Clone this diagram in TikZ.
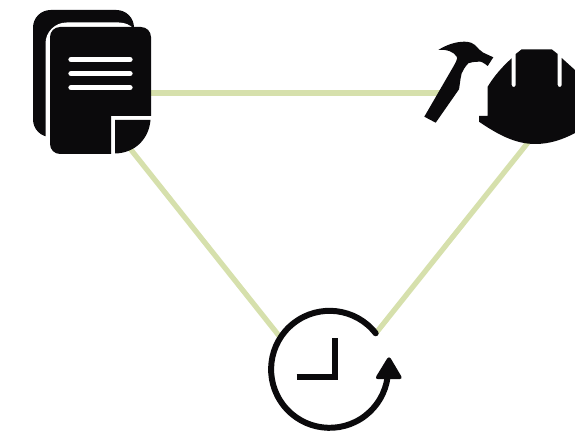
\documentclass[tikz,border=0pt]{standalone}
\usepackage{xcolor}
\usepackage{tikz}
\usetikzlibrary{arrows.meta, calc}
\definecolor{Ink}{HTML}{0B0A0C}
\definecolor{Link}{HTML}{D6E0AC}

\begin{document}
\begin{tikzpicture}[
  x=0.02cm, y=0.02cm,
  link/.style={draw=Link, line width=3pt},
  solid ink/.style={fill=Ink, draw=none},
  textline/.style={draw=white, line width=3pt, line cap=round},
  ring/.style={draw=Ink, line width=3.4pt, line cap=round}
]
\useasboundingbox (0,0) rectangle (575,430);

% anchors of the three links
\coordinate (docsE) at (149,337);
\coordinate (docsS) at (128,284);
\coordinate (toolsW) at (445,337);
\coordinate (toolsS) at (530,290);
\coordinate (clockW) at (280,93);
\coordinate (clockE) at (376,97);

% back sheet and its white edge
\fill[solid ink, rounded corners=10] (33,293) rectangle (134,420);
\fill[white, rounded corners=12] (45.5,271) rectangle (140,407.5);

\draw[link] (docsE) -- (toolsW);
\draw[link] (docsS) -- (clockW);
\draw[link] (toolsS) -- (clockE);

% front sheet
\fill[solid ink] (111,276) -- (60,276) arc (270:180:10) -- (50,393) arc (180:90:10)
  -- (141,403) arc (90:0:10) -- (151,314) -- (111,314) -- cycle;
\fill[solid ink] (115,310) -- (150.5,310) .. controls (149,292) and (136,277) .. (115,276.5) -- cycle;
\draw[textline] (71,370.5) -- (130,370.5);
\draw[textline] (71,356.3) -- (130,356.3);
\draw[textline] (71,342.3) -- (130,342.3);

% hammer
\fill[solid ink] (424.3,313.3) -- (453.3,363.3) .. controls (456,368) and (458,372) .. (456.7,373.3)
  .. controls (454,378) and (447,381) .. (438.3,380)
  .. controls (446,385) and (456,388.5) .. (465,388.3)
  .. controls (470,388) and (473,387) .. (475,385)
  .. controls (478,382) and (480,379) .. (483.3,377.3)
  -- (493.3,372.7) -- (487.7,364)
  .. controls (484,367) and (481,369) .. (478.3,368.3)
  .. controls (474,368) and (471,368) .. (468.3,366.7)
  .. controls (465,363) and (463,360) .. (461.7,356.7)
  .. controls (460,350) and (460,346) .. (459,340.7)
  -- (435.7,307.3) -- cycle;

% helmet
\fill[solid ink] (479,308.3) -- (479,314) -- (487.7,314) -- (487.7,343.3)
  .. controls (494,354) and (503,364) .. (511.7,371.7)
  -- (511.7,345) arc (180:360:2) -- (515.7,376) -- (521.7,380.7) -- (551.7,380.7) -- (557.7,376)
  -- (557.7,345) arc (180:360:2) -- (561.7,372) -- (575,360) -- (575,297)
  .. controls (562,290) and (549,286) .. (535,286)
  .. controls (515,286) and (497,296) .. cycle;

% clock
\draw[ring] (375.7,96.7) arc (38:352:58.5);
\draw[draw=Ink, line width=3.4pt] (296.7,52.7) -- (335.3,52.7) -- (335.3,92.3);
\fill[solid ink, rounded corners=2] (389,74.5) -- (374.5,50.8) -- (403,50.8) -- cycle;
\end{tikzpicture}
\end{document}
